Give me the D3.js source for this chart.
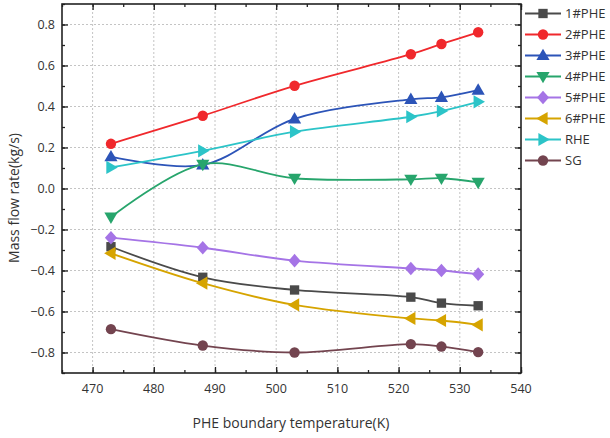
<!DOCTYPE html>
<html><head><meta charset="utf-8">
<script src="https://cdn.jsdelivr.net/npm/d3@7"></script>
<style>
body{margin:0;background:#fff;}
svg text{font-family:"Open Sans","Noto Sans",sans-serif;fill:#333;}
</style></head>
<body><svg id="c" width="610" height="438"></svg>
<script>
const temps = [473, 488, 503, 522, 527, 533];
const seriesNames = ["1#PHE","2#PHE","3#PHE","4#PHE","5#PHE","6#PHE","RHE","SG"];
const phe1 = [-0.284, -0.433, -0.495, -0.530, -0.559, -0.572];
const phe2 = [0.218, 0.355, 0.501, 0.655, 0.705, 0.762];
const phe3 = [0.155, 0.115, 0.340, 0.435, 0.445, 0.480];
const phe4 = [-0.140, 0.118, 0.050, 0.045, 0.050, 0.030];
const phe5 = [-0.240, -0.289, -0.352, -0.390, -0.400, -0.418];
const phe6 = [-0.316, -0.462, -0.568, -0.634, -0.644, -0.665];
const rhe  = [0.103, 0.184, 0.277, 0.350, 0.378, 0.423];
const sg   = [-0.686, -0.766, -0.800, -0.759, -0.771, -0.798];
const xTicks = [470, 480, 490, 500, 510, 520, 530, 540];
const yTicks = [-0.8, -0.6, -0.4, -0.2, 0.0, 0.2, 0.4, 0.6, 0.8];

const colors = ["#4a4a4a","#f0282c","#2c54b8","#27a56c","#a574e6","#d6a400","#2cc4c8","#73444f"];
const symbols = [d3.symbolSquare, d3.symbolCircle, "up", "down", "diamond", "left", "right", d3.symbolCircle];
const allValues = [phe1, phe2, phe3, phe4, phe5, phe6, rhe, sg];

const svg = d3.select("#c");
const L = 62, R = 521, T = 4, B = 373;
const x = d3.scaleLinear().domain([465, 540]).range([L, R]);
const y = d3.scaleLinear().domain([-0.9, 0.9]).range([B, T]);

// gridlines
const grid = svg.append("g");
grid.selectAll(".gx").data(xTicks.filter(t => t > 465 && t < 540)).join("line")
  .attr("x1", d => x(d)).attr("x2", d => x(d)).attr("y1", T).attr("y2", B)
  .attr("stroke", "#c4c4c4").attr("stroke-width", 1).attr("stroke-dasharray", "2,2");
grid.selectAll(".gy").data(yTicks).join("line")
  .attr("y1", d => y(d)).attr("y2", d => y(d)).attr("x1", L).attr("x2", R)
  .attr("stroke", "#c4c4c4").attr("stroke-width", 1).attr("stroke-dasharray", "2,2");

// axes with inward ticks
const xMinor = d3.range(465, 541, 5);
const yMinor = d3.range(-9, 10).map(v => v / 10);
function tickAxes() {
  const g = svg.append("g");
  const bottom = d3.axisTop(x).tickValues(xTicks).tickSize(6).tickFormat("");
  const bottomMinor = d3.axisTop(x).tickValues(xMinor).tickSize(3).tickFormat("");
  g.append("g").attr("transform", `translate(0,${B})`).call(bottomMinor);
  g.append("g").attr("transform", `translate(0,${B})`).call(bottom);
  g.append("g").attr("transform", `translate(0,${T})`).call(d3.axisBottom(x).tickValues(xMinor).tickSize(3).tickFormat(""));
  g.append("g").attr("transform", `translate(0,${T})`).call(d3.axisBottom(x).tickValues(xTicks).tickSize(6).tickFormat(""));
  g.append("g").attr("transform", `translate(${L},0)`).call(d3.axisRight(y).tickValues(yMinor).tickSize(3).tickFormat(""));
  g.append("g").attr("transform", `translate(${L},0)`).call(d3.axisRight(y).tickValues(yTicks).tickSize(6).tickFormat(""));
  g.append("g").attr("transform", `translate(${R},0)`).call(d3.axisLeft(y).tickValues(yMinor).tickSize(3).tickFormat(""));
  g.append("g").attr("transform", `translate(${R},0)`).call(d3.axisLeft(y).tickValues(yTicks).tickSize(6).tickFormat(""));
  g.selectAll(".domain").remove();
  g.selectAll("line").attr("stroke", "#222").attr("stroke-width", 1.3);
}
tickAxes();

// tick labels
svg.append("g").selectAll("text").data(xTicks).join("text")
  .attr("x", d => x(d)).attr("y", 393).attr("text-anchor", "middle")
  .attr("font-size", 12.5).text(d => d);
svg.append("g").selectAll("text").data(yTicks).join("text")
  .attr("x", 55).attr("y", d => y(d) + 4.5).attr("text-anchor", "end")
  .attr("font-size", 12.5).text(d => d3.format(".1f")(d));

// axis titles
svg.append("text").attr("x", 291).attr("y", 428).attr("text-anchor", "middle")
  .attr("font-size", 14).text("PHE boundary temperature(K)");
svg.append("text").attr("transform", "translate(19,198) rotate(-90)").attr("text-anchor", "middle")
  .attr("font-size", 14).text("Mass flow rate(kg/s)");

// marker helper
function markerPath(sym, size) {
  const s = size;
  if (sym === "up") return `M0,${-s*0.62}L${s*0.6},${s*0.42}L${-s*0.6},${s*0.42}Z`;
  if (sym === "down") return `M0,${s*0.62}L${s*0.6},${-s*0.42}L${-s*0.6},${-s*0.42}Z`;
  if (sym === "left") return `M${-s*0.62},0L${s*0.42},${-s*0.6}L${s*0.42},${s*0.6}Z`;
  if (sym === "right") return `M${s*0.62},0L${-s*0.42},${-s*0.6}L${-s*0.42},${s*0.6}Z`;
  if (sym === "diamond") return `M0,${-s*0.62}L${s*0.55},0L0,${s*0.62}L${-s*0.55},0Z`;
  if (sym === d3.symbolSquare) return d3.symbol(sym, s*s*0.72)();
  return d3.symbol(sym, s*s*0.7)();
}

const line = d3.line().x(d => x(d[0])).y(d => y(d[1])).curve(d3.curveCatmullRom.alpha(0.5));
const plot = svg.append("g");
allValues.forEach((vals, i) => {
  const pts = temps.map((t, j) => [t, vals[j]]);
  plot.append("path").attr("d", line(pts)).attr("fill", "none")
    .attr("stroke", colors[i]).attr("stroke-width", 1.8);
  plot.append("g").selectAll("path").data(pts).join("path")
    .attr("transform", d => `translate(${x(d[0])},${y(d[1])})`)
    .attr("d", markerPath(symbols[i], 11)).attr("fill", colors[i]);
});

// frame
svg.append("rect").attr("x", L).attr("y", T).attr("width", R - L).attr("height", B - T)
  .attr("fill", "none").attr("stroke", "#222").attr("stroke-width", 1.6);

// legend
const lg = svg.append("g");
seriesNames.forEach((n, i) => {
  const yy = 13.5 + i * 21;
  lg.append("line").attr("x1", 525).attr("x2", 561).attr("y1", yy).attr("y2", yy)
    .attr("stroke", colors[i]).attr("stroke-width", 1.8);
  lg.append("path").attr("transform", `translate(543,${yy})`).attr("d", markerPath(symbols[i], 11)).attr("fill", colors[i]);
  lg.append("text").attr("x", 565).attr("y", yy + 4.5).attr("font-size", 13).text(n);
});
</script></body></html>
